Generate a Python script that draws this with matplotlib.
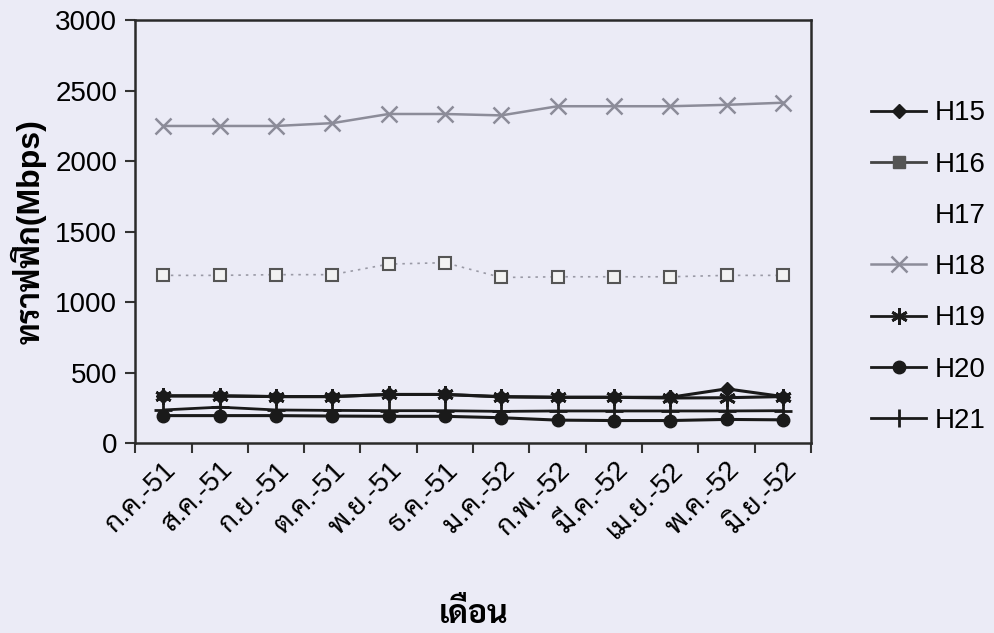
import numpy as np
import matplotlib
matplotlib.use('Agg')
import matplotlib.pyplot as plt
from matplotlib import font_manager
from matplotlib.lines import Line2D

# pick a font that has (looped) Thai glyphs
names = set(f.name for f in font_manager.fontManager.ttflist)
thai = 'DejaVu Sans'
for n in ['Sarabun', 'Noto Sans Thai Looped', 'Noto Sans Thai', 'Athiti']:
    if n in names:
        thai = n
        break
plt.rcParams['font.family'] = ['Liberation Sans', thai, 'DejaVu Sans']

months = ['ก.ค.-51', 'ส.ค.-51', 'ก.ย.-51', 'ต.ค.-51', 'พ.ย.-51', 'ธ.ค.-51',
          'ม.ค.-52', 'ก.พ.-52', 'มี.ค.-52', 'เม.ย.-52', 'พ.ค.-52', 'มิ.ย.-52']

h15 = [335, 335, 330, 330, 345, 345, 330, 325, 325, 325, 385, 330]
h16 = [1190, 1190, 1195, 1195, 1270, 1280, 1175, 1180, 1180, 1180, 1190, 1190]
h18 = [2250, 2250, 2250, 2270, 2335, 2335, 2325, 2390, 2390, 2390, 2400, 2415]
h19 = [335, 335, 330, 330, 345, 345, 328, 325, 325, 320, 322, 330]
h20 = [195, 195, 195, 192, 190, 190, 180, 163, 160, 160, 168, 165]
h21 = [235, 255, 235, 232, 230, 230, 225, 228, 228, 228, 228, 230]

bg = '#ebebf6'
dark = '#1a1a1a'

fig = plt.figure(figsize=(9.94, 6.33), dpi=100, facecolor=bg)
ax = fig.add_axes([0.136, 0.300, 0.680, 0.668], facecolor=bg)

x = np.arange(len(months))
ax.plot(x, h16, color='#9a9aa6', ls=(0, (1.5, 3)), lw=1.2, marker='s', ms=9,
        mfc='#f2f2f2', mec='#555555', mew=1.5)
ax.plot(x, h18, color='#8c8c99', lw=1.8, marker='x', ms=11, mew=1.8)
ax.plot(x, h21, color=dark, lw=2, marker='+', ms=13, mew=2)
ax.plot(x, h20, color=dark, lw=2.2, marker='o', ms=9)
ax.plot(x, h19, color=dark, lw=2.2, marker=(6, 2, 0), ms=12, mew=2)
ax.plot(x, h15, color=dark, lw=2.2, marker='D', ms=7)

ax.set_xlim(-0.5, len(months) - 0.5)
ax.set_ylim(0, 3000)
ax.set_yticks(np.arange(0, 3001, 500))
ax.set_xticks(np.arange(-0.5, len(months), 1.0))
ax.set_xticklabels([])
ax.set_xticks(x, minor=True)
ax.set_xticklabels(months, minor=True, rotation=45, ha='right',
                   rotation_mode='anchor', fontsize=20)
ax.tick_params(axis='x', which='minor', length=0, pad=10)
ax.tick_params(axis='x', which='major', direction='out', length=7, width=1.5, color='#333333')
ax.tick_params(axis='y', direction='out', length=7, width=1.5, color='#333333',
               labelsize=20, pad=6)
for s in ax.spines.values():
    s.set_linewidth(1.8)
    s.set_color('#2a2a2a')

ax.set_ylabel('ทราฟฟิก(Mbps)', fontsize=23, fontweight='bold', labelpad=6)
ax.set_xlabel('เดือน', fontsize=23, fontweight='bold', labelpad=40)

handles = [
    Line2D([], [], color=dark, lw=2, marker='D', ms=7),
    Line2D([], [], color='#444444', lw=2, marker='s', ms=8, mfc='#555555', mec='#555555'),
    Line2D([], [], ls='none', marker='none'),
    Line2D([], [], color='#8c8c99', lw=1.8, marker='x', ms=11, mew=1.8),
    Line2D([], [], color=dark, lw=2, marker=(6, 2, 0), ms=12, mew=2),
    Line2D([], [], color=dark, lw=2, marker='o', ms=9),
    Line2D([], [], color=dark, lw=2, marker='|', ms=13, mew=2),
]
labels = ['H15', 'H16', 'H17', 'H18', 'H19', 'H20', 'H21']
fig.legend(handles, labels, loc='center left', bbox_to_anchor=(0.865, 0.578),
           frameon=False, fontsize=20, handlelength=2.0, handletextpad=0.3,
           labelspacing=0.91, borderaxespad=0)

fig.savefig('out.png', facecolor=bg)
